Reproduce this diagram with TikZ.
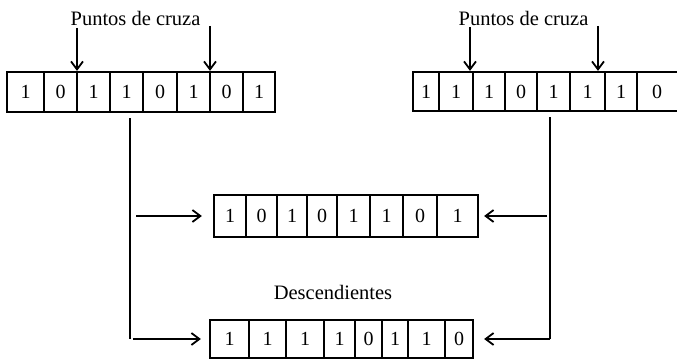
\documentclass[tikz,border=0pt]{standalone}
\usepackage{fontspec}
\setmainfont{Liberation Serif}
\usetikzlibrary{arrows.meta,calc}

\tikzset{
  cell/.style={draw, line width=2.2pt, inner sep=0pt, anchor=center},
  lbl/.style={font=\fontsize{20.5}{24}\selectfont, inner sep=0pt},
  digit/.style={font=\fontsize{20}{24}\selectfont},
  arr/.style={line width=2pt, -{Straight Barb[length=8pt,width=12pt,line width=1.8pt]}},
  link/.style={line width=1.3pt},
  rim/.style={line width=2.2pt, line cap=rect},
}

% one chromosome: #1 name prefix, #2 top, #3 bottom, #4 list of left/right/bit
\newcommand{\chromo}[4]{%
  \foreach \a/\b/\t [count=\i] in {#4}{%
    \node[cell, digit, minimum width={\b pt-\a pt}, minimum height={#3pt-#2pt}]
      (#1\i) at ({(\a+\b)/2}, {(#2+#3)/2}) {\t};
  }%
}

\begin{document}
\begin{tikzpicture}[x=1pt, y=-1pt]
\useasboundingbox (0,0) rectangle (677,361);

% parents
\chromo{L}{72}{112}{7/44/1, 44/77/0, 77/110/1, 110/143/1, 143/177/0, 177/210/1, 210/243/0, 243/275/1}
\chromo{R}{72}{111}{413/439/1, 439/473/1, 473/505/1, 505/537/0, 537/570/1, 570/605/1, 605/637/1}
% last gene runs off the right edge: top and bottom rims only
\node[digit, inner sep=0pt] (R8) at (657,91.5) {0};
\coordinate (rt) at (637,72);
\coordinate (rb) at (637,111);
\draw[rim] (rt) -- (rt -| 677,0);
\draw[rim] (rb) -- (rb -| 677,0);

% offspring
\chromo{M}{195}{237}{214/246/1, 246/277/0, 277/307/1, 307/337/0, 337/370/1, 370/403/1, 403/437/0, 437/478/1}
\chromo{B}{320}{358}{210/249/1, 249/286/1, 286/324/1, 324/355/1, 355/382/0, 382/408/1, 408/445/1, 445/473/0}

% labels
\node[lbl, anchor=base] (pl) at (135.5,26) {Puntos de cruza};
\node[lbl, anchor=base] (pr) at (523.5,26) {Puntos de cruza};
\node[lbl, anchor=base] (desc) at (333,299) {Descendientes};

% crossover points
\coordinate (ca) at (77,28);
\coordinate (cb) at (210,26);
\coordinate (cc) at (470,27);
\coordinate (cd) at (598,26);
\draw[arr] (ca) -- (ca |- L2.north);
\draw[arr] (cb) -- (cb |- L6.north);
\draw[arr] (cc) -- (cc |- R3.north);
\draw[arr] (cd) -- (cd |- R6.north);

% connectors from the parents to the offspring
\coordinate (vl) at (130,118);
\coordinate (vr) at (550,117);
\draw[link] (vl) -- (vl |- B1.west);
\draw[link] (vr) -- (vr |- B8.east);
\draw[arr, shorten >=11pt] ($(vl |- M1.west)+(6,0)$) -- (M1.west);
\draw[arr, shorten >=8pt] ($(vl |- B1.west)+(3,0)$) -- (B1.west);
\draw[arr, shorten >=5pt] ($(vr |- M8.east)+(-3,0)$) -- (M8.east);
\draw[arr, shorten >=10pt] (vr |- B8.east) -- (B8.east);
\end{tikzpicture}
\end{document}
